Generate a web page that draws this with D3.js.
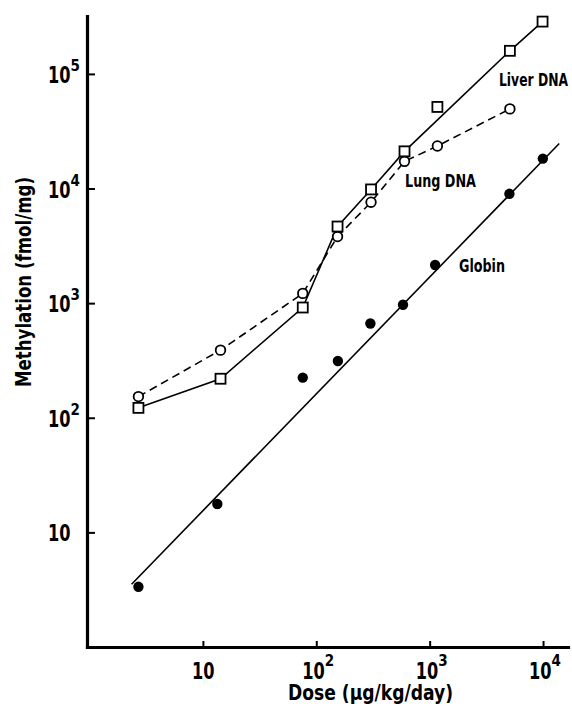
<!DOCTYPE html>
<html>
<head>
<meta charset="utf-8">
<script src="https://cdn.jsdelivr.net/npm/d3@7"></script>
<style>
  html, body { margin: 0; padding: 0; background: #fff; }
  svg { display: block; }
  text { font-family: "DejaVu Sans", "Liberation Sans", sans-serif; font-stretch: condensed; font-weight: bold; fill: #000; }
</style>
</head>
<body>
<svg id="chart" width="572" height="707"></svg>
<script>
// Dose (µg/kg/day) and methylation (fmol/mg) per tissue
const doses       = [2.7, 14.3, 76, 154, 304, 600, 1170, 5100, 9900];
const liverDNA    = [122, 219, 916, 4660, 9820, 21100, 51500, 159000, 286000];
const lungDNA     = [153, 389, 1216, 3810, 7600, 17260, 23500, 49500];
const globinDoses = [2.7, 13.4, 76, 155, 300, 582, 1117, 5050, 9960];
const globin      = [3.35, 17.7, 224, 313, 665, 968, 2150, 8990, 18240];

// Liver point left off the connecting line
const liverOffLine = [1170];

// Regression line for globin: [dose, methylation] at both ends
const globinFit = [[2.35, 3.53], [13900, 24700]];

// Axis ticks
const xTicks = [10, 100, 1000, 10000];
const yTicks = [10, 100, 1000, 10000, 100000];

const svg = d3.select("#chart");

const x = d3.scaleLog().domain([0.95, 16600]).range([87, 568]);
const y = d3.scaleLog().domain([1, 320000]).range([647, 16]);

// Exponent of a power of ten
const expOf = v => Math.round(Math.log10(v));

// Fit a text element to a given width
const fit = (sel, w) => sel.attr("textLength", w).attr("lengthAdjust", "spacingAndGlyphs");

// ---- Axes ----
const xAxis = d3.axisBottom(x).tickValues(xTicks).tickSizeInner(-6).tickSizeOuter(0).tickFormat("");
const yAxis = d3.axisLeft(y).tickValues(yTicks).tickSizeInner(-8).tickSizeOuter(0).tickFormat("");

const gx = svg.append("g").attr("transform", "translate(0,647)").call(xAxis);
const gy = svg.append("g").attr("transform", "translate(87,0)").call(yAxis);

[gx, gy].forEach(g => {
  g.select(".domain").attr("stroke", "#000").attr("stroke-width", 3.2).attr("stroke-linecap", "square");
  g.selectAll(".tick line").attr("stroke", "#000").attr("stroke-width", 2);
});

// Power-of-ten label: "10" of fixed width with a raised exponent after it
function powerLabel(x0, base, v, rise) {
  const t = svg.append("text").attr("x", x0).attr("y", base);
  fit(t.append("tspan").style("font-size", "23px").text("10"), 22.5);
  const e = expOf(v);
  if (e > 1) {
    t.append("tspan").attr("dy", -rise).style("font-size", "15px").text(e);
  }
}

// X tick labels
xTicks.forEach(v => {
  const cx = x(v);
  powerLabel(expOf(v) > 1 ? cx - 14 : cx - 11, 679, v, 13);
});

// Y tick labels: "10" ends just left of the axis, exponent hanging to the right
yTicks.forEach(v => powerLabel(48, y(v) + 9, v, 12));

// Axis titles
fit(svg.append("text")
  .attr("x", 288)
  .attr("y", 700)
  .style("font-size", "21px")
  .text("Dose (\u03bcg/kg/day)"), 165);

fit(svg.append("text")
  .attr("transform", "translate(31,387) rotate(-90)")
  .style("font-size", "22px")
  .text("Methylation (fmol/mg)"), 210);

// ---- Series ----
const line = d3.line().x(d => x(d[0])).y(d => y(d[1]));

const liverPts = doses.map((d, i) => [d, liverDNA[i]]);
const lungPts = lungDNA.map((v, i) => [doses[i], v]);
const globinPts = globinDoses.map((d, i) => [d, globin[i]]);

// Globin regression line
svg.append("path")
  .attr("d", line(globinFit))
  .attr("fill", "none")
  .attr("stroke", "#000")
  .attr("stroke-width", 1.6);

// Lung DNA (dashed)
svg.append("path")
  .attr("d", line(lungPts))
  .attr("fill", "none")
  .attr("stroke", "#000")
  .attr("stroke-width", 1.6)
  .attr("stroke-dasharray", "8,5");

// Liver DNA (solid)
svg.append("path")
  .attr("d", line(liverPts.filter(p => !liverOffLine.includes(p[0]))))
  .attr("fill", "none")
  .attr("stroke", "#000")
  .attr("stroke-width", 1.6);

// Markers
svg.selectAll(".lung").data(lungPts).join("circle")
  .attr("cx", d => x(d[0])).attr("cy", d => y(d[1])).attr("r", 4.8)
  .attr("fill", "#fff").attr("stroke", "#000").attr("stroke-width", 1.8);

svg.selectAll(".liver").data(liverPts).join("rect")
  .attr("x", d => x(d[0]) - 5).attr("y", d => y(d[1]) - 5)
  .attr("width", 10).attr("height", 10)
  .attr("fill", "#fff").attr("stroke", "#000").attr("stroke-width", 1.8);

svg.selectAll(".globin").data(globinPts).join("circle")
  .attr("cx", d => x(d[0])).attr("cy", d => y(d[1])).attr("r", 5.2)
  .attr("fill", "#000");

// Series labels
fit(svg.append("text").attr("x", 499).attr("y", 86).style("font-size", "17px").text("Liver DNA"), 69);
fit(svg.append("text").attr("x", 405).attr("y", 187).style("font-size", "17px").text("Lung DNA"), 71);
fit(svg.append("text").attr("x", 459).attr("y", 272).style("font-size", "17px").text("Globin"), 46);
</script>
</body>
</html>
